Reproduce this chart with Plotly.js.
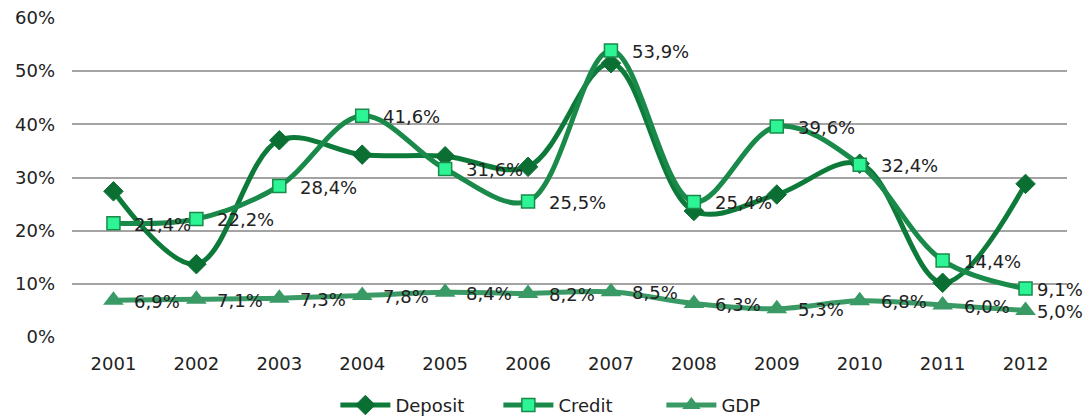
<!DOCTYPE html>
<html>
<head>
<meta charset="utf-8">
<script src="https://cdn.plot.ly/plotly-3.0.1.min.js"></script>
<style>html,body{margin:0;padding:0;background:#fff}#chart{width:1090px;height:420px}</style>
</head>
<body>
<div id="chart"></div>
<script>
const years = ["2001","2002","2003","2004","2005","2006","2007","2008","2009","2010","2011","2012"];
const deposit = [27.4, 13.7, 37.0, 34.3, 34.0, 32.0, 51.5, 23.7, 26.8, 32.6, 10.2, 28.8];
const credit = [21.4, 22.2, 28.4, 41.6, 31.6, 25.5, 53.9, 25.4, 39.6, 32.4, 14.4, 9.1];
const gdp = [6.9, 7.1, 7.3, 7.8, 8.4, 8.2, 8.5, 6.3, 5.3, 6.8, 6.0, 5.0];
const yTicks = [0, 10, 20, 30, 40, 50, 60];

const FONT = 'DejaVu Sans, Verdana, sans-serif';
const fmt = v => v.toFixed(1).replace('.', ',') + '%';

const traces = [
  {
    name: 'Deposit', x: years, y: deposit, type: 'scatter', mode: 'lines+markers',
    line: {color: '#0d7a3a', width: 5, shape: 'spline', smoothing: 1},
    marker: {symbol: 'diamond', size: 15, color: '#0b6f34', line: {color: '#0b6f34', width: 1}},
    hoverinfo: 'skip'
  },
  {
    name: 'Credit', x: years, y: credit, type: 'scatter', mode: 'lines+markers',
    line: {color: '#1a8a4a', width: 5, shape: 'spline', smoothing: 1},
    marker: {symbol: 'square', size: 13, color: '#2df595', line: {color: '#1a8a4a', width: 1.5}},
    hoverinfo: 'skip'
  },
  {
    name: 'GDP', x: years, y: gdp, type: 'scatter', mode: 'lines+markers',
    line: {color: '#3a9a66', width: 5, shape: 'spline', smoothing: 1},
    marker: {symbol: 'triangle-up', size: 18, color: '#3a9a66'},
    hoverinfo: 'skip'
  }
];

const annotations = [];
[credit, gdp].forEach(series => {
  series.forEach((v, i) => {
    annotations.push({
      x: i, y: v, xref: 'x', yref: 'y', text: fmt(v), showarrow: false,
      xanchor: 'left', yanchor: 'middle', xshift: i === series.length - 1 ? 9 : 19, yshift: -1,
      font: {family: FONT, size: 18, color: '#222'}
    });
  });
});

const layout = {
  width: 1090, height: 420,
  margin: {l: 72, r: 23, t: 18, b: 83},
  paper_bgcolor: '#fff', plot_bgcolor: '#fff',
  showlegend: true,
  annotations: annotations,
  legend: {orientation: 'h', x: 0.532, xanchor: 'center', xref: 'container', y: 0.035, yanchor: 'middle', yref: 'container',
    itemwidth: 50, entrywidth: 98, font: {family: FONT, size: 18, color: '#222'}, traceorder: 'normal'},
  xaxis: {
    type: 'category', range: [-0.5, 11.5], showgrid: false, zeroline: false, showline: false,
    ticks: '', ticklabelstandoff: 14, tickfont: {family: FONT, size: 18, color: '#222'}
  },
  yaxis: {
    range: [0, 60], tickvals: yTicks, ticktext: yTicks.map(v => v + '%'),
    showgrid: true, gridcolor: '#a3a3a3', gridwidth: 2, zeroline: false, showline: false,
    ticks: '', ticklabelstandoff: 16,
    tickfont: {family: FONT, size: 18, color: '#222'}
  }
};

Plotly.newPlot('chart', traces, layout, {displayModeBar: false, staticPlot: true});
</script>
</body>
</html>
